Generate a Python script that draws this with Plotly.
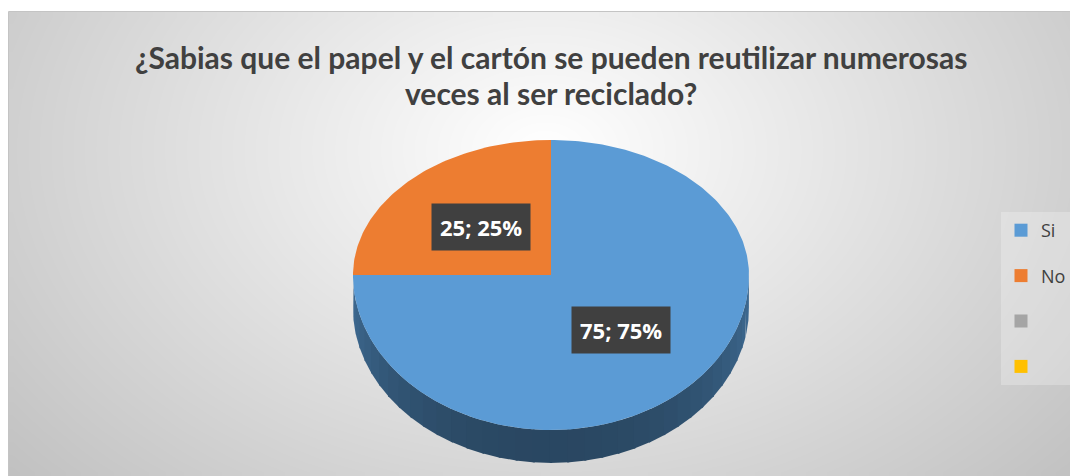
import numpy as np
import plotly.graph_objects as go

# ---- data ----
labels = ["Si", "No", "", ""]
values = [75, 25, 0, 0]
colors = ["#5B9BD5", "#ED7D31", "#A5A5A5", "#FFC000"]
title_lines = ["¿Sabias que el papel y el cartón se pueden reutilizar numerosas",
               "veces al ser reciclado?"]

# ---- page geometry (page pixels; the page body has an 8px margin) ----
W, H = 1078, 476
OFF = 8
CX, CY = 551, 275
RX, RY_BACK, RY_FRONT = 198, 135, 155
DEPTH = 33


def proj(theta_deg, f=1.0):
    t = np.radians(theta_deg)
    s = np.sin(t)
    ry = np.where(s > 0, RY_BACK, RY_FRONT)
    return CX + f * RX * np.cos(t), CY - f * ry * s


def shade(hexcol, k):
    h = hexcol.lstrip("#")
    r, g, b = (int(h[i:i + 2], 16) for i in (0, 2, 4))
    return "rgb(%d,%d,%d)" % (r * k, g * k, b * k)


fig = go.Figure()

# background radial gradient
nx, ny = 120, 60
xe = np.linspace(8, W, nx + 1)
ye = np.linspace(12, H, ny + 1)
xc = (xe[:-1] + xe[1:]) / 2
yc = (ye[:-1] + ye[1:]) / 2
XX, YY = np.meshgrid(xc, yc)
Z = np.sqrt(((XX - 545) / 600) ** 2 + ((YY - 150) / 420) ** 2)
fig.add_trace(go.Heatmap(x=xe, y=ye, z=Z, zmin=0, zmax=1.25, zsmooth="best",
                         colorscale=[[0, "#ffffff"], [1, "#bdbdbd"]],
                         showscale=False, hoverinfo="skip"))

total = float(sum(values))
start = 90.0
slices = []
for lab, v, col in zip(labels, values, colors):
    sweep = 360.0 * v / total
    slices.append((lab, v, col, start, start - sweep))
    start -= sweep

# side walls (front half only)
for lab, v, col, a0, a1 in slices:
    if v <= 0:
        continue
    for k in (-360, 0, 360):
        lo, hi = max(a1, -180 + k), min(a0, 0 + k)
        if hi <= lo:
            continue
        nseg = 36
        edges = np.linspace(lo, hi, nseg + 1)
        for i in range(nseg):
            th = np.linspace(edges[i] - 0.3, edges[i + 1] + 0.3, 6)
            x, y = proj(th)
            mid = np.radians((edges[i] + edges[i + 1]) / 2)
            kf = 0.70 - 0.24 * abs(np.sin(mid))
            xs = np.concatenate([x, x[::-1]])
            ys = np.concatenate([y, (y + DEPTH)[::-1]])
            fig.add_trace(go.Scatter(x=xs, y=ys, mode="lines", fill="toself",
                                     fillcolor=shade(col, kf), line=dict(width=0),
                                     hoverinfo="skip", showlegend=False))

# top faces
for lab, v, col, a0, a1 in slices:
    if v <= 0:
        continue
    th = np.linspace(a0, a1, max(int(abs(a0 - a1)), 2) + 1)
    x, y = proj(th)
    xs = np.concatenate([[CX], x, [CX]])
    ys = np.concatenate([[CY], y, [CY]])
    fig.add_trace(go.Scatter(x=xs, y=ys, mode="lines", fill="toself",
                             fillcolor=col, line=dict(width=0, color=col),
                             hoverinfo="skip", showlegend=False))

# legend entries
for i, (lab, col) in enumerate(zip(labels, colors)):
    fig.add_trace(go.Scatter(x=[None], y=[None], mode="markers", name=lab,
                             legendgroup="g%d" % i,
                             marker=dict(symbol="square", size=13, color=col)))

# data labels
annotations = []
for lab, v, col, a0, a1 in slices:
    if v <= 0:
        continue
    mx, my = proj((a0 + a1) / 2, 0.5)
    pct = round(100 * v / total)
    annotations.append(dict(x=float(mx), y=float(my), text="%d; %d%%" % (v, pct),
                            showarrow=False, bgcolor="#404040", borderpad=8,
                            font=dict(family="Open Sans", size=22, color="white",
                                      weight="bold")))

for ty, line in zip((57, 93), title_lines):
    annotations.append(dict(x=551, y=ty, text=line, showarrow=False,
                            font=dict(family="Lato", size=30,
                                      color="#404040", weight="bold")))

fw, fh = W - OFF, H - OFF
fig.update_layout(
    width=fw, height=fh,
    margin=dict(l=0, r=0, t=0, b=0),
    paper_bgcolor="white", plot_bgcolor="white",
    xaxis=dict(range=[OFF, W], visible=False, fixedrange=True),
    yaxis=dict(range=[H, OFF], visible=False, fixedrange=True),
    annotations=annotations,
    shapes=[dict(type="rect", x0=8.5, y0=11.5, x1=W + 2, y1=H + 2,
                 line=dict(color="#c4c4c4", width=1), layer="above")],
    legend=dict(x=(1001 - OFF) / fw, y=1 - (212 - OFF) / fh, xanchor="left", yanchor="top",
                bgcolor="rgba(255,255,255,0.25)", tracegroupgap=19,
                font=dict(family="Open Sans", size=18, color="#404040")),
    showlegend=True,
)

fig.write_html("out.html")
